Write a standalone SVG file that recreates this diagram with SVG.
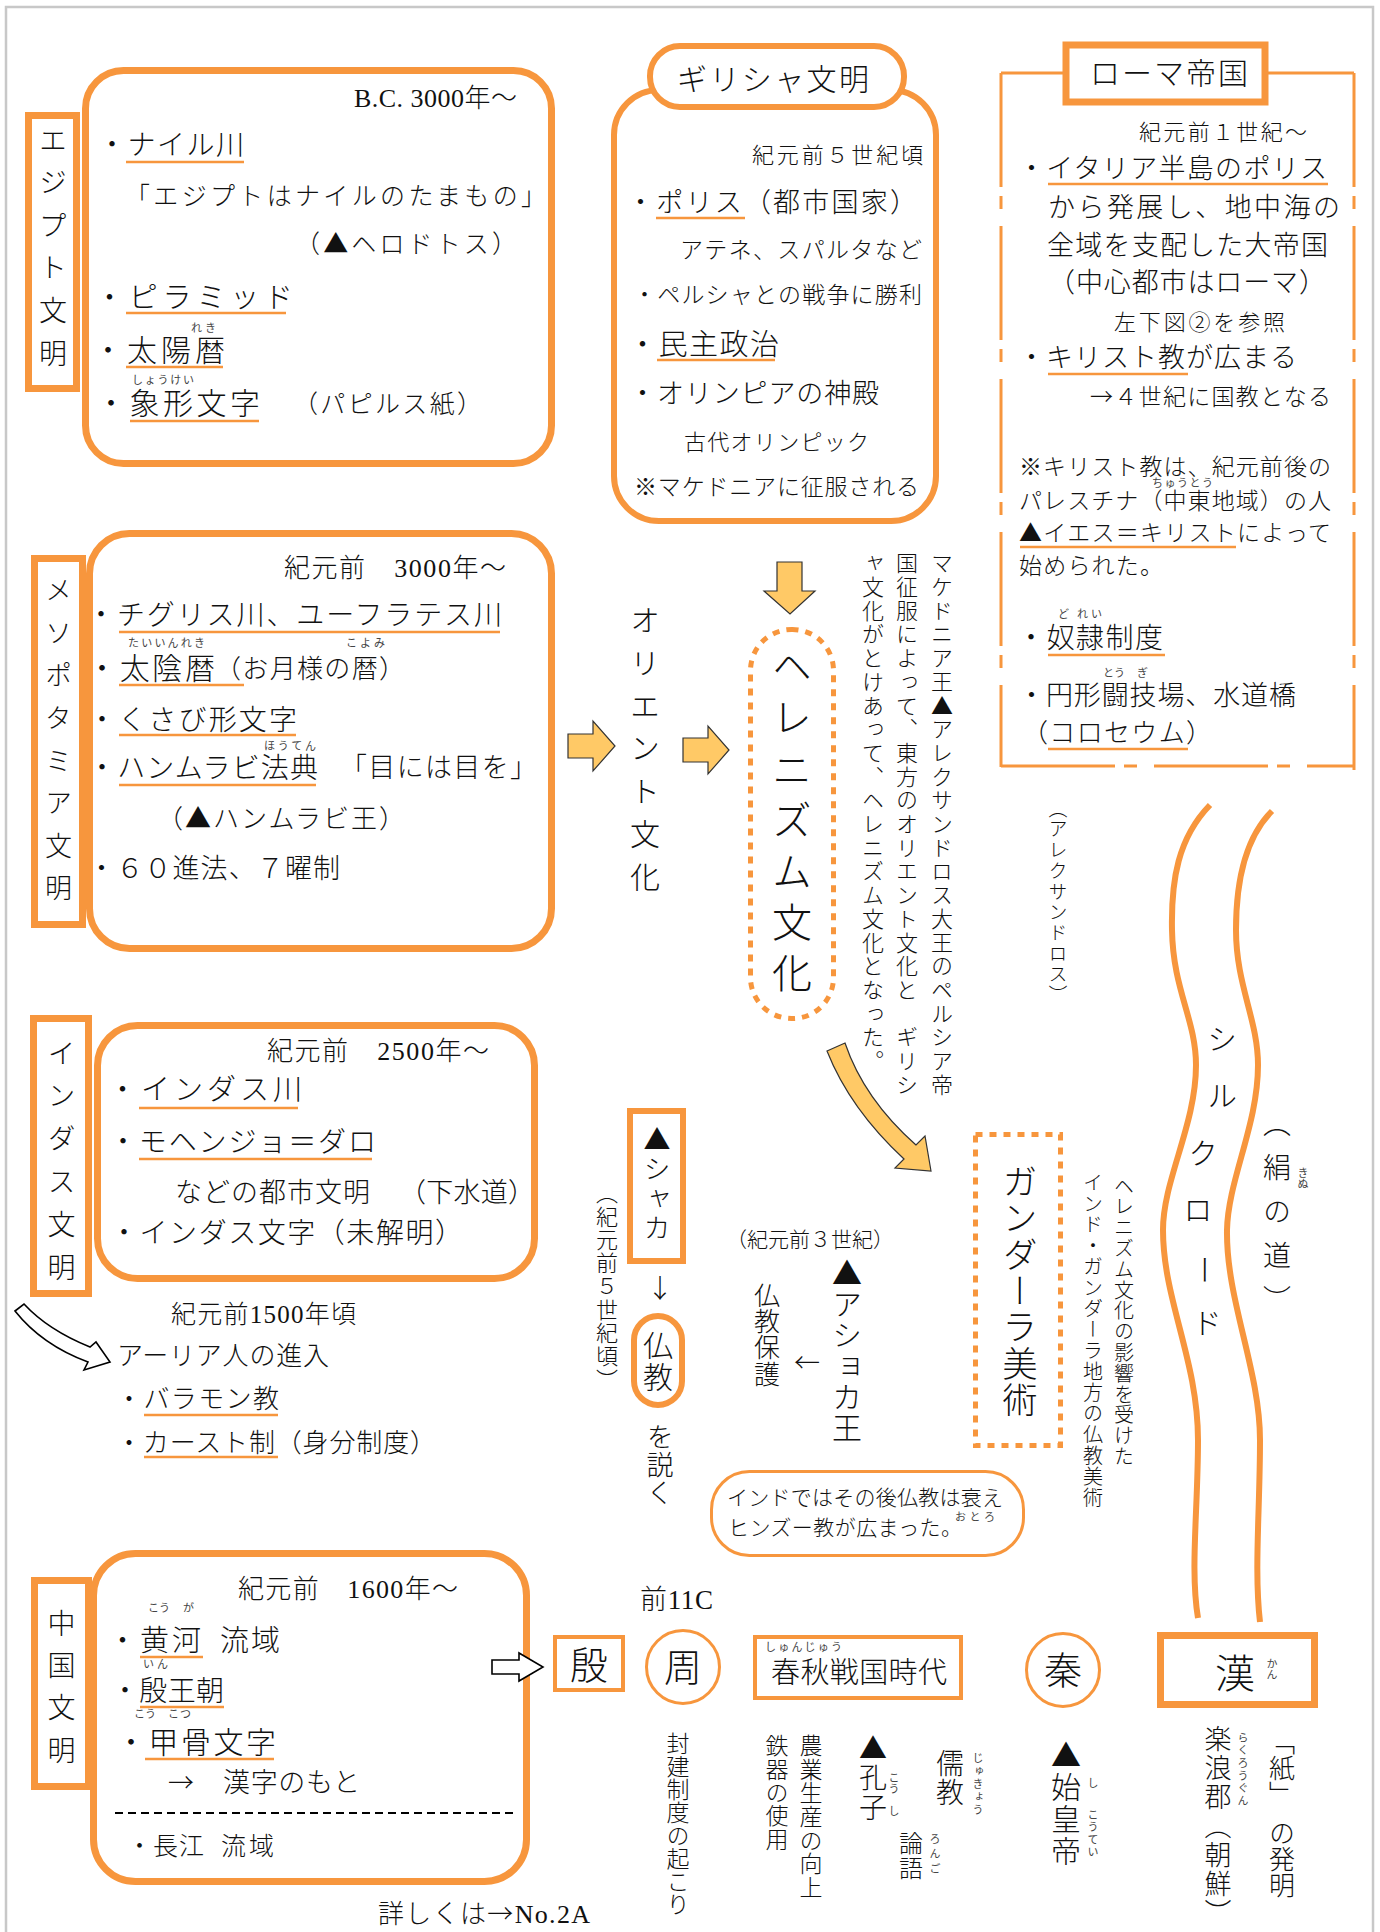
<svg xmlns="http://www.w3.org/2000/svg" width="1380" height="1932" viewBox="0 0 1380 1932">
<defs>
<style>
.j{font-family:"Noto Sans CJK JP",sans-serif;fill:#111;font-weight:300}
.l{font-family:"Liberation Serif","Noto Sans CJK JP",serif;fill:#111;font-weight:300}
.v{writing-mode:vertical-rl}
.r{font-family:"Noto Sans CJK JP",sans-serif;fill:#444;font-size:11px}
.box{fill:#fff;stroke:#F7963D;stroke-width:7}
.thin{fill:none;stroke:#F7963D;stroke-width:3}
.u{stroke:#F7963D;stroke-width:2.5}
.arr{fill:#FFC966;stroke:#333;stroke-width:1.2}
.hol{fill:#fff;stroke:#000;stroke-width:1.6}
.dash{fill:none;stroke:#F7963D;stroke-width:3;stroke-dasharray:114 9 13 17}
.dot{fill:none;stroke:#F7963D;stroke-width:5;stroke-dasharray:7 7}
.silk{fill:none;stroke:#F7963D;stroke-width:6}
</style>
</defs>
<rect x="6" y="7" width="1367" height="1945" fill="#fff" stroke="#c8c8c8" stroke-width="2.5"/>

<g id="egypt">
<rect class="box" x="85.5" y="70.5" width="466" height="393" rx="38"/>
<rect class="box" x="28.5" y="115.5" width="48" height="273"/>
<text class="j v" x="53" y="126" font-size="28" style="letter-spacing:14.6px">エジプト文明</text>
<text class="l" x="354" y="107" font-size="26" textLength="163">B.C. 3000年～</text>
<text class="j" x="98" y="155" font-size="28" textLength="146">・ナイル川</text>
<line class="u" x1="126" y1="162" x2="244" y2="162"/>
<text class="j" x="125" y="205" font-size="25" textLength="421">「エジプトはナイルのたまもの」</text>
<text class="j" x="295" y="253" font-size="25" textLength="222">（▲ヘロドトス）</text>
<text class="j" x="95" y="308" font-size="29" textLength="198">・ピラミッド</text>
<line class="u" x1="126" y1="313" x2="286" y2="313"/>
<text class="r" x="191" y="332" textLength="25">れき</text>
<text class="j" x="93" y="361" font-size="30" textLength="132">・太陽暦</text>
<line class="u" x1="126" y1="367" x2="223" y2="367"/>
<text class="r" x="132" y="384" textLength="62">しょうけい</text>
<text class="j" x="96" y="414" font-size="30" textLength="164">・象形文字</text>
<text class="j" x="293" y="413" font-size="25" textLength="189">（パピルス紙）</text>
<line class="u" x1="130" y1="421" x2="259" y2="421"/>
</g>

<g id="greece">
<rect x="614" y="90" width="322" height="431" rx="45" fill="#fff" stroke="#F7963D" stroke-width="6"/>
<rect x="650" y="46" width="254" height="61" rx="30" fill="#fff" stroke="#F7963D" stroke-width="6"/>
<text class="j" x="677" y="90" font-size="30" textLength="192">ギリシャ文明</text>
<text class="j" x="752" y="163" font-size="22" textLength="171">紀元前５世紀頃</text>
<text class="j" x="627" y="212" font-size="27" textLength="290">・ポリス（都市国家）</text>
<line class="u" x1="656" y1="218" x2="745" y2="218"/>
<text class="j" x="680" y="258" font-size="23" textLength="242">アテネ、スパルタなど</text>
<text class="j" x="633" y="303" font-size="23" textLength="289">・ペルシャとの戦争に勝利</text>
<text class="j" x="628" y="355" font-size="29" textLength="151">・民主政治</text>
<line class="u" x1="657" y1="360" x2="775" y2="360"/>
<text class="j" x="629" y="403" font-size="27" textLength="250">・オリンピアの神殿</text>
<text class="j" x="684" y="450" font-size="22" textLength="185">古代オリンピック</text>
<text class="j" x="634" y="495" font-size="23" textLength="285">※マケドニアに征服される</text>
</g>

<g id="rome">
<line class="thin" x1="1001" y1="73" x2="1066" y2="73"/>
<line class="thin" x1="1265" y1="73" x2="1354" y2="73"/>
<path class="dash" d="M1001,73 V767"/>
<path class="dash" d="M1354,73 V770"/>
<path class="dash" d="M1001,766 H1354"/>
<rect x="1066" y="45" width="199" height="57" fill="#fff" stroke="#F7963D" stroke-width="7"/>
<text class="j" x="1090" y="84" font-size="30" textLength="158">ローマ帝国</text>
<text class="j" x="1139" y="140" font-size="22" textLength="168">紀元前１世紀～</text>
<text class="j" x="1018" y="178" font-size="27" textLength="309">・イタリア半島のポリス</text>
<line class="u" x1="1048" y1="184" x2="1328" y2="184"/>
<text class="j" x="1048" y="217" font-size="27" textLength="292">から発展し、地中海の</text>
<text class="j" x="1047" y="255" font-size="27" textLength="281">全域を支配した大帝国</text>
<text class="j" x="1048" y="292" font-size="27" textLength="278">（中心都市はローマ）</text>
<text class="j" x="1114" y="330" font-size="22" textLength="171">左下図②を参照</text>
<text class="j" x="1018" y="367" font-size="27" textLength="279">・キリスト教が広まる</text>
<line class="u" x1="1048" y1="374" x2="1188" y2="374"/>
<text class="j" x="1090" y="405" font-size="23" textLength="241">→４世紀に国教となる</text>
<text class="j" x="1019" y="475" font-size="23" textLength="312">※キリスト教は、紀元前後の</text>
<text class="r" x="1152" y="487" textLength="61">ちゅうとう</text>
<text class="j" x="1019" y="509" font-size="23" textLength="312">パレスチナ（中東地域）の人</text>
<text class="j" x="1019" y="541" font-size="23" textLength="312">▲イエス＝キリストによって</text>
<line class="u" x1="1020" y1="547" x2="1236" y2="547"/>
<text class="j" x="1019" y="574" font-size="23" textLength="144">始められた。</text>
<text class="r" x="1058" y="618">ど</text>
<text class="r" x="1077" y="618" textLength="25">れい</text>
<text class="j" x="1017" y="648" font-size="28" textLength="146">・奴隷制度</text>
<line class="u" x1="1048" y1="655" x2="1165" y2="655"/>
<text class="r" x="1103" y="677" textLength="22">とう</text>
<text class="r" x="1137" y="677">ぎ</text>
<text class="j" x="1018" y="705" font-size="27" textLength="278">・円形闘技場、水道橋</text>
<text class="j" x="1022" y="742" font-size="26" textLength="190">（コロセウム）</text>
<line class="u" x1="1048" y1="749" x2="1188" y2="749"/>
</g>

<g id="mesopotamia">
<rect class="box" x="89.5" y="533.5" width="462" height="415" rx="40"/>
<rect class="box" x="34.5" y="558.5" width="48" height="366"/>
<text class="j v" x="58.5" y="576.5" font-size="27" style="letter-spacing:15.6px">メソポタミア文明</text>
<text class="l" x="284" y="577" font-size="26" textLength="222">紀元前　3000年～</text>
<text class="j" x="87" y="625" font-size="28" textLength="415">・チグリス川、ユーフラテス川</text>
<line class="u" x1="119" y1="632" x2="500" y2="632"/>
<text class="r" x="128" y="647" textLength="77">たいいんれき</text>
<text class="r" x="346" y="647" textLength="39">こよみ</text>
<text class="j" x="87" y="679" font-size="30" textLength="128">・太陰暦</text>
<text class="j" x="215" y="678" font-size="26" textLength="190">（お月様の暦）</text>
<line class="u" x1="119" y1="685" x2="244" y2="685"/>
<text class="j" x="88" y="730" font-size="28" textLength="209">・くさび形文字</text>
<line class="u" x1="119" y1="735" x2="296" y2="735"/>
<text class="r" x="264" y="750" textLength="52">ほうてん</text>
<text class="j" x="88" y="778" font-size="28" textLength="230">・ハンムラビ法典</text>
<line class="u" x1="119" y1="785" x2="316" y2="785"/>
<text class="j" x="340" y="777" font-size="27" textLength="197">「目には目を」</text>
<text class="j" x="157" y="828" font-size="26" textLength="248">（▲ハンムラビ王）</text>
<text class="j" x="88" y="878" font-size="27" textLength="252">・６０進法、７曜制</text>
</g>

<g id="orient">
<text class="j v" x="645" y="605" font-size="30" style="letter-spacing:12.7px">オリエント文化</text>
</g>

<g id="hellenism">
<rect class="dot" x="750.5" y="629.5" width="83" height="389" rx="41"/>
<text class="j v" x="792" y="646" font-size="40" style="letter-spacing:11.2px">ヘレニズム文化</text>
</g>

<g id="macedonia-note">
<text class="j v" x="942" y="552" font-size="22" style="letter-spacing:1.7px">マケドニア王▲アレクサンドロス大王のペルシア帝</text>
<text class="j v" x="907" y="552" font-size="22" style="letter-spacing:1.7px">国征服によって、東方のオリエント文化と　ギリシ</text>
<text class="j v" x="873" y="552" font-size="22" style="letter-spacing:1.7px">ャ文化がとけあって、ヘレニズム文化となった。</text>
</g>

<g id="alexandros">
<text class="j v" x="1058" y="799" font-size="19" style="letter-spacing:1.7px">（アレクサンドロス）</text>
</g>

<g id="indus">
<rect class="box" x="97.5" y="1025.5" width="437" height="253" rx="40"/>
<rect class="box" x="33.5" y="1018.5" width="55" height="275"/>
<text class="j v" x="61.5" y="1039" font-size="28" style="letter-spacing:14.8px">インダス文明</text>
<text class="l" x="267" y="1060" font-size="26" textLength="222">紀元前　2500年～</text>
<text class="j" x="108" y="1100" font-size="29" textLength="194">・インダス川</text>
<line class="u" x1="139" y1="1108" x2="298" y2="1108"/>
<text class="j" x="109" y="1152" font-size="28" textLength="267">・モヘンジョ＝ダロ</text>
<line class="u" x1="139" y1="1159" x2="372" y2="1159"/>
<text class="j" x="175" y="1202" font-size="27" textLength="195">などの都市文明</text>
<text class="j" x="399" y="1202" font-size="27" textLength="136">（下水道）</text>
<text class="j" x="110" y="1243" font-size="28" textLength="353">・インダス文字（未解明）</text>
</g>

<g id="aryan">
<text class="l" x="171" y="1323" font-size="25" textLength="185">紀元前1500年頃</text>
<text class="j" x="117" y="1365" font-size="26" textLength="212">アーリア人の進入</text>
<text class="j" x="116" y="1408" font-size="26" textLength="163">・バラモン教</text>
<line class="u" x1="144" y1="1415" x2="278" y2="1415"/>
<text class="j" x="116" y="1452" font-size="26" textLength="320">・カースト制（身分制度）</text>
<line class="u" x1="144" y1="1457" x2="278" y2="1457"/>
</g>

<g id="shaka">
<rect x="630" y="1111" width="53" height="150" fill="#fff" stroke="#F7963D" stroke-width="6"/>
<text class="j v" x="657" y="1126" font-size="27" style="letter-spacing:2.5px">▲シャカ</text>
<text class="j v" x="607" y="1182" font-size="22" style="letter-spacing:1.3px">（紀元前５世紀頃）</text>
</g>

<g id="bukkyo">
<rect x="634" y="1316" width="48" height="89" rx="24" fill="#fff" stroke="#F7963D" stroke-width="6"/>
<text class="j v" x="658" y="1330" font-size="30" style="letter-spacing:2px">仏教</text>
<text class="j v" x="660" y="1423" font-size="27" style="letter-spacing:1px">を説く</text>
</g>

<g id="ashoka">
<text class="j" x="726" y="1247" font-size="21" textLength="168">（紀元前３世紀）</text>
<text class="j v" x="847" y="1258" font-size="30" style="letter-spacing:1px">▲アショカ王</text>
<text class="j v" x="767" y="1282" font-size="26" style="letter-spacing:0.3px">仏教保護</text>
</g>

<g id="gandhara">
<rect class="dot" x="975.5" y="1134.5" width="85" height="311"/>
<text class="j v" x="1020" y="1164" font-size="35" style="letter-spacing:1.4px">ガンダーラ美術</text>
<text class="j v" x="1124" y="1176" font-size="20" style="letter-spacing:0.8px">ヘレニズム文化の影響を受けた</text>
<text class="j v" x="1093" y="1172" font-size="20" style="letter-spacing:1px">インド・ガンダーラ地方の仏教美術</text>
</g>

<g id="silkroad">
<path class="silk" d="M1210,805 C1178,838 1171,880 1172,930 C1173,990 1196,1020 1196,1065 C1196,1125 1163,1180 1163,1230 C1163,1300 1198,1360 1198,1440 C1198,1510 1190,1570 1198,1618"/>
<path class="silk" d="M1272,811 C1245,838 1236,880 1236,930 C1236,985 1258,1020 1258,1065 C1258,1125 1228,1180 1227,1230 C1226,1300 1260,1370 1260,1440 C1260,1510 1254,1570 1260,1622"/>
<text class="j v" x="1222" y="1024" font-size="30">シ</text>
<text class="j v" x="1222" y="1080" font-size="30">ル</text>
<text class="j v" x="1203" y="1138" font-size="30">ク</text>
<text class="j v" x="1198" y="1195" font-size="30">ロ</text>
<text class="j v" x="1205" y="1255" font-size="30">ー</text>
<text class="j v" x="1207" y="1308" font-size="30">ド</text>
<text class="j v" x="1277" y="1109" font-size="28" style="letter-spacing:16px">（絹の道）</text>
<text class="r v" x="1303" y="1167">きぬ</text>
</g>

<g id="bubble">
<rect x="711.5" y="1471.5" width="312" height="84" rx="38" fill="#fff" stroke="#F7963D" stroke-width="3"/>
<text class="j" x="727" y="1505" font-size="21" textLength="276">インドではその後仏教は衰え</text>
<text class="r" x="955" y="1521" font-size="12" textLength="40">おとろ</text>
<text class="j" x="728" y="1535" font-size="21" textLength="234">ヒンズー教が広まった。</text>
</g>

<g id="china">
<rect class="box" x="93.5" y="1553.5" width="433" height="328" rx="42"/>
<rect class="box" x="34.5" y="1580.5" width="54" height="206"/>
<text class="j v" x="61.5" y="1609" font-size="28" style="letter-spacing:14.3px">中国文明</text>
<text class="l" x="238" y="1598" font-size="26" textLength="220">紀元前　1600年～</text>
<text class="r" x="148" y="1612" textLength="22">こう</text>
<text class="r" x="183" y="1612">が</text>
<text class="j" x="108" y="1651" font-size="29" textLength="93">・黄河</text>
<text class="j" x="220" y="1651" font-size="29" textLength="60">流域</text>
<line class="u" x1="140" y1="1657" x2="203" y2="1657"/>
<text class="r" x="143" y="1668" textLength="25">いん</text>
<text class="j" x="111" y="1701" font-size="28" textLength="113">・殷王朝</text>
<line class="u" x1="140" y1="1707" x2="224" y2="1707"/>
<text class="r" x="134" y="1718" textLength="22">こう</text>
<text class="r" x="168" y="1718" textLength="23">こつ</text>
<text class="j" x="116" y="1753" font-size="30" textLength="160">・甲骨文字</text>
<line class="u" x1="145" y1="1759" x2="274" y2="1759"/>
<text class="j" x="168" y="1792" font-size="26">→</text>
<text class="j" x="223" y="1792" font-size="27" textLength="137">漢字のもと</text>
<line x1="115" y1="1813" x2="515" y2="1813" stroke="#000" stroke-width="2" stroke-dasharray="8 5"/>
<text class="j" x="127" y="1855" font-size="25" textLength="77">・長江</text>
<text class="j" x="221" y="1855" font-size="25" textLength="53">流域</text>
</g>
<text class="j" x="378" y="1923" font-size="26" textLength="212">詳しくは→<tspan style="font-family:'Liberation Serif',serif;font-weight:400">No.2A</tspan></text>

<g id="in">
<rect x="555" y="1637" width="68" height="53" fill="#fff" stroke="#F7963D" stroke-width="4"/>
<text class="j" x="589" y="1679" font-size="38" text-anchor="middle">殷</text>
</g>
<g id="zhou">
<text class="l" x="640" y="1609" font-size="27" textLength="73">前11C</text>
<circle cx="683" cy="1667" r="36.5" fill="#fff" stroke="#F7963D" stroke-width="3"/>
<text class="j" x="683" y="1681" font-size="38" text-anchor="middle">周</text>
<text class="j v" x="678" y="1732" font-size="23">封建制度の起こり</text>
</g>
<g id="shunju">
<rect x="755" y="1637" width="206" height="61" fill="#fff" stroke="#F7963D" stroke-width="4"/>
<text class="r" x="765" y="1651" font-size="12" textLength="77">しゅんじゅう</text>
<text class="j" x="771" y="1683" font-size="29" textLength="176">春秋戦国時代</text>
<text class="j v" x="777" y="1734" font-size="23" style="letter-spacing:0.4px">鉄器の使用</text>
<text class="j v" x="811" y="1734" font-size="23" style="letter-spacing:0.6px">農業生産の向上</text>
<text class="j v" x="873" y="1734" font-size="28" style="letter-spacing:1.5px">▲孔子</text>
<text class="r v" x="894" y="1772">こう</text>
<text class="r v" x="894" y="1805">し</text>
<text class="j v" x="950" y="1749" font-size="28" style="letter-spacing:1px">儒教</text>
<text class="r v" x="978" y="1752" style="letter-spacing:2px">じゅきょう</text>
<text class="j v" x="911" y="1831" font-size="24" style="letter-spacing:1px">論語</text>
<text class="r v" x="935" y="1833" style="letter-spacing:4px">ろんご</text>
</g>
<g id="qin">
<circle cx="1063" cy="1670" r="36.5" fill="#fff" stroke="#F7963D" stroke-width="3"/>
<text class="j" x="1063" y="1684" font-size="38" text-anchor="middle">秦</text>
<text class="j v" x="1066" y="1740" font-size="30" style="letter-spacing:2px">▲始皇帝</text>
<text class="r v" x="1093" y="1777">し</text>
<text class="r v" x="1093" y="1809" style="letter-spacing:1.5px">こうてい</text>
</g>
<g id="han">
<rect x="1160.5" y="1635.5" width="154" height="69" fill="#fff" stroke="#F7963D" stroke-width="7"/>
<text class="j" x="1235" y="1688" font-size="40" text-anchor="middle">漢</text>
<text class="r v" x="1272" y="1658" font-size="12">かん</text>
<text class="j v" x="1218" y="1725" font-size="27" style="letter-spacing:2px">楽浪郡（朝鮮）</text>
<text class="r v" x="1243" y="1732" style="letter-spacing:1.7px">らくろうぐん</text>
<text class="j v" x="1282" y="1729" font-size="26">「紙」</text>
<text class="j v" x="1282" y="1820" font-size="26">の発明</text>
</g>

<g id="connectors">
<path class="arr" d="M568,734 H593 V721 L615,746 L593,771 V758 H568 Z"/>
<path class="arr" d="M683,738 H708 V726 L729,750 L708,774 V762 H683 Z"/>
<path class="arr" d="M777,562 H802 V591 H815 L790,614 L764,591 H777 Z"/>
<path class="arr" d="M827,1051 L845,1043 Q864,1099 916,1145 L925,1136 L931,1171 L895,1168 L904,1159 Q850,1109 827,1051 Z"/>
<path class="hol" d="M15,1311 L24,1304 Q48,1330 90,1347 L96,1342 L110,1362 L84,1370 L88,1362 Q42,1345 15,1311 Z"/>
<path class="hol" d="M492,1660 H519 V1653 L543,1667 L519,1681 V1674 H492 Z"/>
<text class="j" x="660" y="1298" font-size="26" text-anchor="middle">↓</text>
<text class="j" x="807" y="1372" font-size="26" text-anchor="middle">←</text>
</g>
</svg>
